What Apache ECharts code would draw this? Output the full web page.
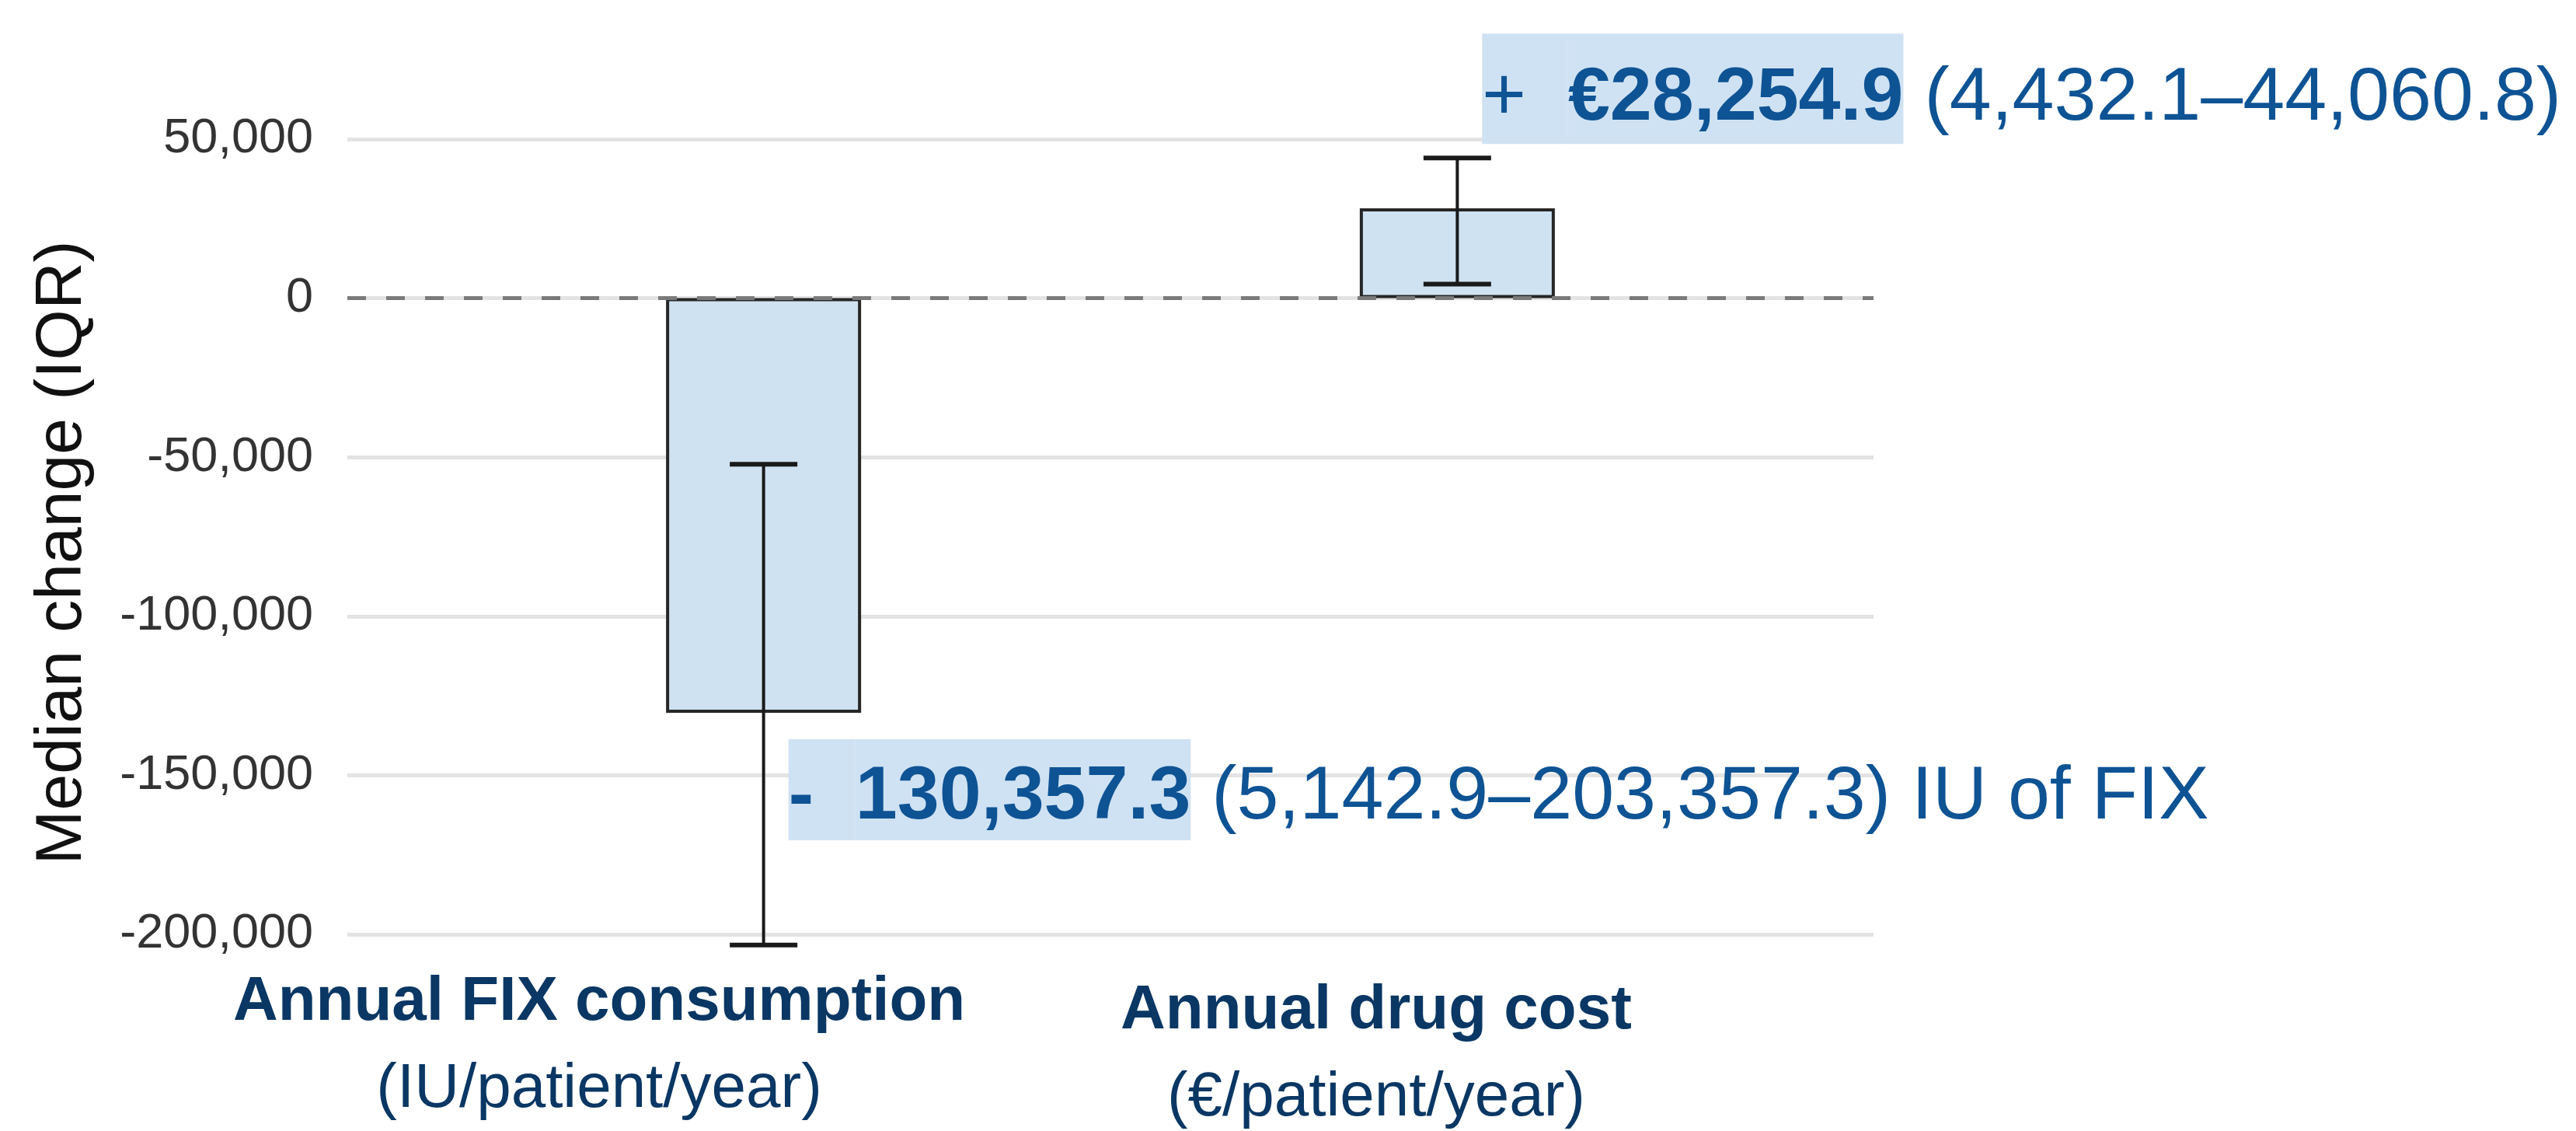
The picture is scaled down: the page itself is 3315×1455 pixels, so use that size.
<!DOCTYPE html>
<html>
<head>
<meta charset="utf-8">
<script src="https://cdn.jsdelivr.net/npm/echarts@6/dist/echarts.min.js"></script>
<style>
html, body { margin: 0; padding: 0; background: #fff; }
#chart { width: 3315px; height: 1455px; }
</style>
</head>
<body>
<div id="chart"></div>
<script>
// data
const categories = ['Annual FIX consumption', 'Annual drug cost'];
const units = ['(IU/patient/year)', '(€/patient/year)'];
const positions = [1, 2];
const medians = [-130357.3, 28254.9];
const iqrHigh = [-52200, 44060.8];
const iqrLow = [-203357.3, 4432.1];
const iqrText = [' (5,142.9–203,357.3) IU of FIX', ' (4,432.1–44,060.8)'];
const yTicks = [-200000, -150000, -100000, -50000, 0, 50000];

// category captions sit a little left of their bars in the original
const labelShift = [-0.237, -0.117];

const FONT = "'Liberation Sans', Arial, sans-serif";
const blue = '#0e5394';
const navy = '#0a3764';
const hl = '#cfe2f3';

let myChart = echarts.init(document.getElementById('chart'));

function fmt1(v) {
    return Math.abs(v).toLocaleString('en-US', {minimumFractionDigits: 1, maximumFractionDigits: 1});
}

const labelPos = positions.map((p, i) => p + labelShift[i]);

myChart.setOption({
    backgroundColor: '#fff',
    animation: false,
    grid: { left: 447, right: 904, top: 179, bottom: 212, containLabel: false },
    xAxis: {
        type: 'value',
        min: 0.4,
        max: 2.6,
        axisLine: { show: false },
        axisTick: { show: false },
        splitLine: { show: false },
        axisLabel: {
            customValues: labelPos,
            hideOverlap: false,
            margin: 2,
            formatter: function (v) {
                let i = Math.abs(v - labelPos[0]) < Math.abs(v - labelPos[1]) ? 0 : 1;
                if (i === 0) return '{a|' + categories[0] + '}\n{b|' + units[0] + '}';
                return '{c|' + categories[1] + '}\n{d|' + units[1] + '}';
            },
            rich: {
                a: { fontFamily: FONT, fontSize: 80, fontWeight: 'bold', color: navy, lineHeight: 90 },
                b: { fontFamily: FONT, fontSize: 80, color: navy, lineHeight: 134 },
                c: { fontFamily: FONT, fontSize: 80, fontWeight: 'bold', color: navy, lineHeight: 112 },
                d: { fontFamily: FONT, fontSize: 80, color: navy, lineHeight: 112 }
            }
        }
    },
    yAxis: {
        type: 'value',
        min: -210000,
        max: 50000,
        name: 'Median change (IQR)',
        nameLocation: 'middle',
        nameGap: 324,
        nameTextStyle: { fontFamily: FONT, fontSize: 84, color: '#111' },
        axisLine: { show: false },
        axisTick: { show: false, customValues: yTicks },
        axisLabel: {
            customValues: yTicks,
            margin: 44,
            fontFamily: FONT,
            fontSize: 63,
            color: '#333',
            formatter: function (v) { return v.toLocaleString('en-US'); }
        },
        splitLine: { show: true, lineStyle: { color: '#e3e3e3', width: 5 } }
    },
    series: [
        {
            // dashed zero reference
            type: 'line',
            data: [],
            z: 1,
            markLine: {
                silent: true,
                symbol: 'none',
                label: { show: false },
                lineStyle: { color: '#7a7a7a', width: 5, type: [24, 26] },
                data: [{ yAxis: 0 }]
            }
        },
        {
            type: 'bar',
            z: 2,
            barWidth: 251,
            data: positions.map((p, i) => [p, medians[i]]),
            itemStyle: { color: '#cfe2f1', borderColor: '#262626', borderWidth: 4 }
        },
        {
            // IQR whiskers
            type: 'custom',
            z: 3,
            data: positions.map((p, i) => [p, iqrHigh[i], iqrLow[i]]),
            encode: { x: 0, y: [1, 2] },
            renderItem: function (params, api) {
                let x = api.coord([api.value(0), 0])[0];
                let yH = api.coord([0, api.value(1)])[1];
                let yL = api.coord([0, api.value(2)])[1];
                let hw = 43.5;
                return {
                    type: 'group',
                    children: [
                        { type: 'line', shape: { x1: x, y1: yH, x2: x, y2: yL }, style: { stroke: '#1a1a1a', lineWidth: 4 } },
                        { type: 'line', shape: { x1: x - hw, y1: yH, x2: x + hw, y2: yH }, style: { stroke: '#1a1a1a', lineWidth: 6 } },
                        { type: 'line', shape: { x1: x - hw, y1: yL, x2: x + hw, y2: yL }, style: { stroke: '#1a1a1a', lineWidth: 6 } }
                    ]
                };
            }
        },
        {
            // highlighted median annotations
            type: 'custom',
            z: 4,
            silent: true,
            data: positions.map((p, i) => [p, medians[i], iqrHigh[i]]),
            encode: { x: 0, y: 1 },
            renderItem: function (params, api) {
                let i = params.dataIndex;
                let m = api.value(1);
                let x = api.coord([api.value(0), 0])[0] + 32;
                let neg = m < 0;
                let pad = neg ? [26.5, 0, 6.5, 0] : [35.5, 0, 9.5, 0];
                let y = neg ? api.coord([0, m])[1] + 34 : api.coord([0, api.value(2)])[1] - 18;
                let sign = neg ? '{p|-  }' : '{q|+  }';
                let val = neg ? fmt1(m) : '€' + fmt1(m);
                let base = { fontFamily: FONT, fontSize: 97, fill: blue, padding: pad };
                return {
                    type: 'text',
                    x: x,
                    y: y,
                    style: {
                        text: sign + '{v|' + val + '}{r|' + iqrText[i] + '}',
                        align: 'left',
                        verticalAlign: neg ? 'top' : 'bottom',
                        rich: {
                            p: Object.assign({}, base, { fontWeight: 'bold', backgroundColor: hl }),
                            q: Object.assign({}, base, { backgroundColor: hl }),
                            v: Object.assign({}, base, { fontWeight: 'bold', backgroundColor: hl }),
                            r: Object.assign({}, base)
                        }
                    }
                };
            }
        }
    ]
});
</script>
</body>
</html>
